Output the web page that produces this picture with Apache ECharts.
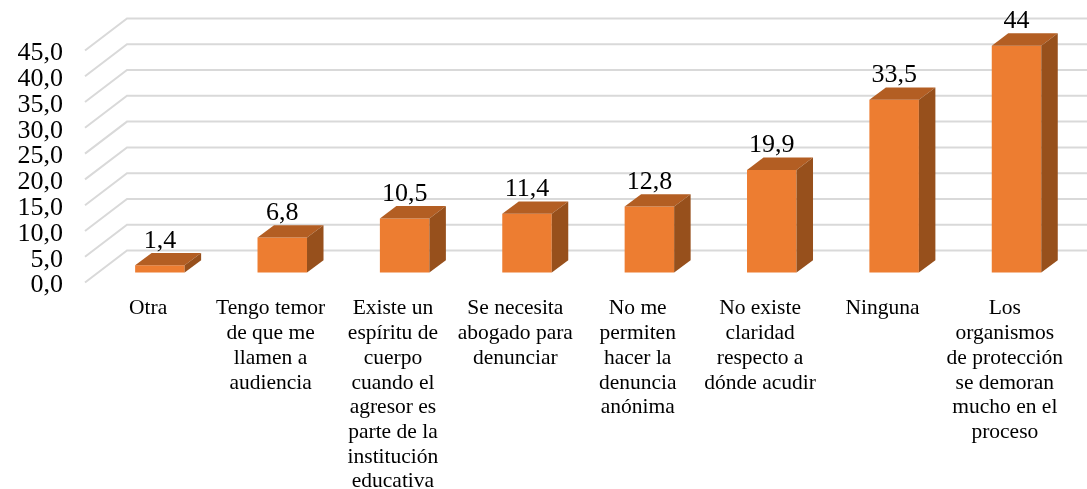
<!DOCTYPE html>
<html>
<head>
<meta charset="utf-8">
<script src="https://cdn.jsdelivr.net/npm/echarts@6/dist/echarts.min.js"></script>
<style>
html, body { margin: 0; padding: 0; background: #fff; }
#main { width: 1087px; height: 489px; }
</style>
</head>
<body>
<div id="main"></div>
<script>
var categories = [
    'Otra',
    'Tengo temor\nde que me\nllamen a\naudiencia',
    'Existe un\nespíritu de\ncuerpo\ncuando el\nagresor es\nparte de la\ninstitución\neducativa',
    'Se necesita\nabogado para\ndenunciar',
    'No me\npermiten\nhacer la\ndenuncia\nanónima',
    'No existe\nclaridad\nrespecto a\ndónde acudir',
    'Ninguna',
    'Los\norganismos\nde protección\nse demoran\nmucho en el\nproceso'
];
var values = [1.4, 6.8, 10.5, 11.4, 12.8, 19.9, 33.5, 44];
var valueLabels = ['1,4', '6,8', '10,5', '11,4', '12,8', '19,9', '33,5', '44'];
var ticks = [0, 5, 10, 15, 20, 25, 30, 35, 40, 45];

var font = '"Liberation Serif", "Times New Roman", serif';

// offset of the back wall from the axis plane
var wallX = 42, wallY = -32;
// bars stand a bit inside the floor
var barX = 11.7, barY = -10;
var barW = 49.5, depthX = 16.5, depthY = -12.3;

function renderWall(params, api) {
    var p = api.coord([0, api.value(0)]);
    var left = params.coordSys.x - 2;
    return {
        type: 'polyline',
        silent: true,
        shape: { points: [[left, p[1]], [left + wallX, p[1] + wallY], [1087, p[1] + wallY]] },
        style: { fill: null, stroke: '#d9d9d9', lineWidth: 2 }
    };
}

function renderBar(params, api) {
    var i = api.value(0);
    var top = api.coord([i, api.value(1)]);
    var base = api.coord([i, 0]);
    var x0 = top[0] + barX - barW / 2;
    var x1 = x0 + barW;
    var yt = top[1] + barY;
    var yb = base[1] + barY;
    return {
        type: 'group',
        children: [
            {
                type: 'rect',
                shape: { x: x0, y: yt, width: barW, height: yb - yt },
                style: { fill: '#ed7d31' }
            },
            {
                type: 'polygon',
                shape: { points: [[x0, yt], [x0 + depthX, yt + depthY], [x1 + depthX, yt + depthY], [x1, yt]] },
                style: { fill: '#b35e23' }
            },
            {
                type: 'polygon',
                shape: { points: [[x1, yt], [x1 + depthX, yt + depthY], [x1 + depthX, yb + depthY], [x1, yb]] },
                style: { fill: '#97501c' }
            },
            {
                type: 'text',
                style: {
                    x: x0 + barW / 2,
                    y: yt + depthY - 12,
                    text: valueLabels[i],
                    align: 'center',
                    verticalAlign: 'middle',
                    font: '26px ' + font,
                    fill: '#000'
                }
            }
        ]
    };
}

var chart = echarts.init(document.getElementById('main'));
chart.setOption({
    animation: false,
    // axis runs one step past both ends so the min/max label check leaves 0,0 and 45,0 alone
    grid: { left: 87, right: 21, top: 24.7, bottom: 180.7, outerBoundsMode: 'none' },
    xAxis: {
        type: 'category',
        data: categories,
        axisLine: { show: false },
        axisTick: { show: false },
        axisLabel: {
            interval: 0,
            margin: -11.8,
            fontFamily: font,
            fontSize: 21.5,
            lineHeight: 24.7,
            color: '#000'
        }
    },
    yAxis: {
        type: 'value',
        min: -5,
        max: 50,
        interval: 5,
        axisLine: { show: false },
        axisTick: { show: false },
        splitLine: { show: false },
        axisLabel: {
            margin: 24,
            color: '#000',
            formatter: function (v) {
                if (ticks.indexOf(v) < 0) return '';
                return '{v|' + v.toFixed(1).replace('.', ',') + '}';
            },
            rich: {
                v: {
                    fontFamily: font,
                    fontSize: 26,
                    lineHeight: 16,
                    padding: [6, 0, 0, 0],
                    color: '#000'
                }
            }
        }
    },
    series: [
        {
            type: 'custom',
            renderItem: renderWall,
            data: ticks.map(function (t) { return [t]; }),
            encode: { y: 0 },
            silent: true,
            clip: false
        },
        {
            type: 'custom',
            renderItem: renderBar,
            data: values.map(function (v, i) { return [i, v]; }),
            encode: { x: 0, y: 1 },
            clip: false
        }
    ]
});
</script>
</body>
</html>
